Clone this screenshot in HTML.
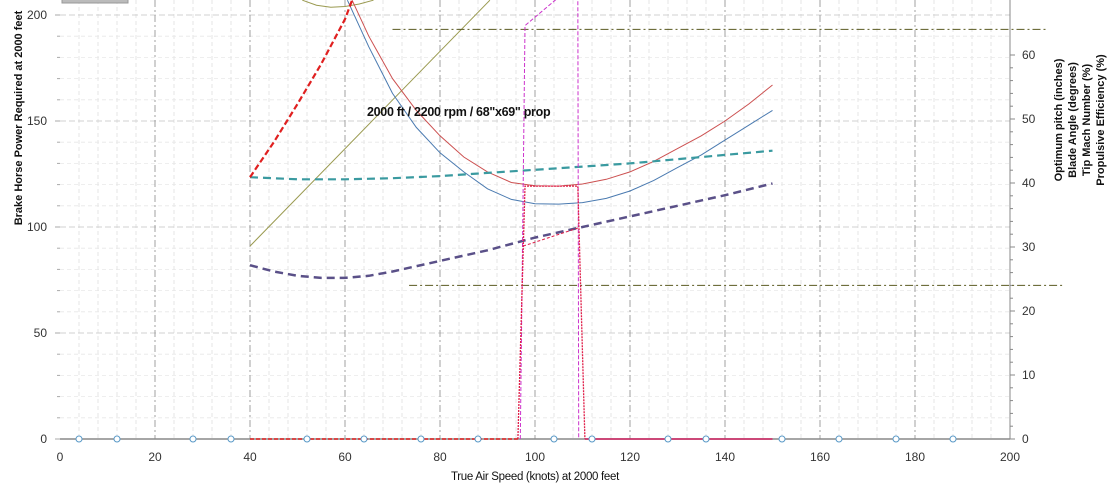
<!DOCTYPE html>
<html><head><meta charset="utf-8"><style>
body{margin:0;background:#fff;}
svg{display:block;font-family:"Liberation Sans",sans-serif;}
</style></head><body>
<svg id="chart" width="1117" height="489" viewBox="0 0 1117 489"></svg>
<script>
const xTicks=[0,20,40,60,80,100,120,140,160,180,200];
const yTicks=[0,50,100,150,200];
const y2Ticks=[0,10,20,30,40,50,60];
const redDashX=[40,45,50,55,60,61.5];
const redDashY=[123.5,140,158,177,198,207];
const oliveLineX=[40,90.5];
const oliveLineY=[91,207];
const oliveArcX=[51,54,57,60,63,66];
const oliveArcY=[207,204.6,203.7,204,205.2,207];
const blueX=[60.5,65,70,75,80,85,90,95,100,105,110,115,120,125,130,135,140,145,150];
const blueY=[207,185,163,147,135,126,118,113,111,110.8,111.5,113.5,117,122,128,134,141,148,155];
const redX=[61.5,65,70,75,80,85,90,95,100,105,110,115,120,125,130,135,140,145,150];
const redY=[207,190,170,155,143,133,126,121,119.5,119.3,120.3,122.5,126,131,137,143,150,158,167];
const tealX=[40,50,60,70,80,90,100,110,120,130,140,150];
const tealY=[123.5,122.5,122.5,123,124,125.5,127,128.5,130,132,134,136];
const purpleX=[40,45,50,55,60,65,70,80,90,100,110,120,130,140,150];
const purpleY=[82,79,77,76,76,77,79,84,89,95,100,105,110,115,120.5];
const refLineAX=[70,207.6];
const refLineAY=[64,64];
const refLineBX=[73.5,211];
const refLineBY=[24,24];
const magentaAX=[96.9,97.9,108.5];
const magentaAY=[0,195,215];
const magentaBX=[109,109.2];
const magentaBY=[215,0];
const redBoxX=[96.4,97.9,109,110.5];
const redBoxY=[0,119.3,119.3,0];
const redSegX=[97.5,109];
const redSegY=[91,99.5];
const zeroDashX=[40,96.4];
const zeroDashY=[0,0];
const zeroSolidX=[110.5,150];
const zeroSolidY=[0,0];
const markerX=[4,12,28,36,52,64,76,88,104,112,128,136,152,164,176,188];
const markerY=[0,0,0,0,0,0,0,0,0,0,0,0,0,0,0,0];

const X0=60,X1=1010,YB=439;
const sx=v=>X0+(v/200)*(X1-X0);
const sy=v=>YB-v*2.12;
const sy2=v=>YB-v*6.4;
const NS="http://www.w3.org/2000/svg";
const svg=document.getElementById('chart');
function mk(tag,attrs,parent){const e=document.createElementNS(NS,tag);for(const k in attrs)e.setAttribute(k,attrs[k]);(parent||svg).appendChild(e);return e;}

const grid=mk('g',{});


for(let v=4;v<200;v+=4){if(v%20===0)continue;const l=mk('line',{x1:sx(v),x2:sx(v),y1:0,y2:YB,stroke:'#e0e0e0','stroke-dasharray':'4,3','stroke-width':0.8},grid);

}
for(let v=10;v<=200;v+=10){if(v%50===0)continue;const l=mk('line',{x1:X0,x2:X1,y1:sy(v),y2:sy(v),stroke:'#e8e8e8','stroke-dasharray':'4,3','stroke-width':0.8},grid);

}
for(const v of [50,100,150,200]){const l=mk('line',{x1:X0,x2:X1,y1:sy(v),y2:sy(v),stroke:'#d0d0d0','stroke-dasharray':'6,3'},grid);

}
for(const v of xTicks){if(v===0||v===200)continue;const l=mk('line',{x1:sx(v),x2:sx(v),y1:0,y2:YB,stroke:'#8a8a8a','stroke-width':0.8,'stroke-dasharray':'7,3,2,3'},grid);

}

const lg=mk('rect',{x:62,y:-4,width:66,height:7,fill:'#bbb',stroke:'#999'});



const ax=mk('g',{});


mk('line',{x1:X0,x2:X1,y1:YB,y2:YB,stroke:'#888','stroke-width':1.5},ax);
mk('line',{x1:X1,x2:X1,y1:0,y2:YB,stroke:'#888'},ax);
for(let v=0;v<=60;v+=2){mk('line',{x1:X1,x2:X1+(v%10===0?5:3),y1:sy2(v),y2:sy2(v),stroke:'#888'},ax);}
for(let v=0;v<=200;v+=10){mk('line',{x1:X0-(v%50===0?5:3),x2:X0,y1:sy(v),y2:sy(v),stroke:'#aaa'},ax);}
for(const v of xTicks){const t=mk('text',{x:sx(v),y:461,'text-anchor':'middle','font-size':12,fill:'#333'},ax);t.textContent=v;

}
for(const v of yTicks){const t=mk('text',{x:47,y:sy(v)+4,'text-anchor':'end','font-size':12,fill:'#333'},ax);t.textContent=v;

}
for(const v of y2Ticks){const t=mk('text',{x:1022,y:sy2(v)+4,'font-size':12,fill:'#333'},ax);t.textContent=v;

}

function line(xs,ys,attrs,name,yf){const d=xs.map((x,i)=>(i?'L':'M')+sx(x).toFixed(1)+','+(yf||sy)(ys[i]).toFixed(1)).join(' ');const p=mk('path',Object.assign({d:d,fill:'none'},attrs));

return p;}
line(oliveLineX,oliveLineY,{stroke:'#9a9a50','stroke-width':1},'olive-line');
line(oliveArcX,oliveArcY,{stroke:'#9a9a50','stroke-width':1},'olive-arc');
line(refLineAX,refLineAY,{stroke:'#5a5a20','stroke-dasharray':'8,3,2,3'},'reference-line-upper',sy2);
line(refLineBX,refLineBY,{stroke:'#5a5a20','stroke-dasharray':'8,3,2,3'},'reference-line-lower',sy2);
line(blueX,blueY,{stroke:'#4a7ab0','stroke-width':1},'blue-power-curve');
line(redX,redY,{stroke:'#cc5050','stroke-width':1},'red-power-curve');
line(tealX,tealY,{stroke:'#3a9aa0','stroke-width':2.2,'stroke-dasharray':'8,5'},'teal-dashed-series');
line(purpleX,purpleY,{stroke:'#5a5088','stroke-width':2.5,'stroke-dasharray':'8,5'},'purple-dashed-series');
line(redDashX,redDashY,{stroke:'#e02020','stroke-width':2.2,'stroke-dasharray':'6,3'},'red-dashed-series');
line(magentaAX,magentaAY,{stroke:'#cc33cc','stroke-width':1,'stroke-dasharray':'4,2'},'magenta-series-a');
line(magentaBX,magentaBY,{stroke:'#cc33cc','stroke-width':1,'stroke-dasharray':'4,2'},'magenta-series-b');
line(redBoxX,redBoxY,{stroke:'#e0204a','stroke-width':1.3,'stroke-dasharray':'2,1'},'red-dotted-box');
line(redSegX,redSegY,{stroke:'#e0204a','stroke-width':1,'stroke-dasharray':'3,2'},'red-dotted-segment');
line(zeroDashX,zeroDashY,{stroke:'#e02020','stroke-width':1.5,'stroke-dasharray':'4,2'},'red-zero-dashed');
line(zeroSolidX,zeroSolidY,{stroke:'#d02060','stroke-width':1.5},'red-zero-solid');
markerX.forEach((x,i)=>{const c=mk('circle',{cx:sx(x),cy:sy(markerY[i]),r:3,fill:'#fff',stroke:'#5a9ac8','stroke-width':1});

});
</script>
<svg width="1117" height="489" style="position:absolute;left:0;top:0;font-family:'Liberation Sans',sans-serif">
<text x="367" y="116" font-size="12.5" font-weight="bold" fill="#111" letter-spacing="-0.3">2000 ft / 2200 rpm / 68"x69" prop</text>
<text x="535" y="480" font-size="11.5" text-anchor="middle" fill="#111" letter-spacing="-0.3">True Air Speed (knots) at 2000 feet</text>
<text transform="translate(22,118) rotate(-90)" font-size="11" font-weight="bold" text-anchor="middle" fill="#111">Brake Horse Power Required at 2000 feet</text>
<g font-size="11" font-weight="bold" fill="#111" text-anchor="middle">
<text transform="translate(1062,120) rotate(-90)">Optimum pitch (inches)</text>
<text transform="translate(1076,120) rotate(-90)">Blade Angle (degrees)</text>
<text transform="translate(1090,120) rotate(-90)">Tip Mach Number (%)</text>
<text transform="translate(1104,120) rotate(-90)">Propulsive Efficiency (%)</text>
</g>
</svg>
</body></html>
